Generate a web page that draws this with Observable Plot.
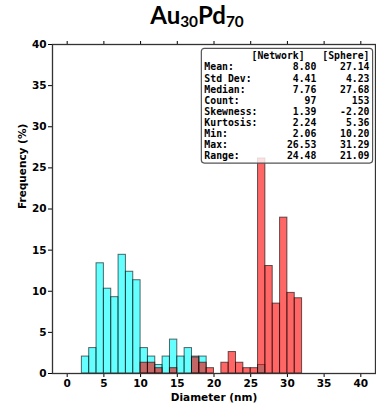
<!DOCTYPE html>
<html><head><meta charset="utf-8">
<script src="https://cdn.jsdelivr.net/npm/d3@7"></script>
<script src="https://cdn.jsdelivr.net/npm/@observablehq/plot@0.6"></script>
<style>
body{margin:0;background:#fff;}
#title{height:34px;text-align:center;padding-left:18px;font:bold 24px Lato,"Open Sans",sans-serif;line-height:30px;color:#000;overflow:visible;white-space:nowrap;}
#title .sub{font-size:0.64em;position:relative;top:0.2em;}
#chart svg{display:block;}
</style></head><body>
<div id="title">Au<span class="sub">30</span>Pd<span class="sub">70</span></div>
<div id="chart"></div>
<script>
// Network (cyan) histogram: bin starts (nm) and frequency (%)
const networkBinStart = [2, 3, 4, 5, 6, 7, 8, 9, 10, 11, 12, 13, 14, 15, 16, 17, 18, 26];
const networkPct = [2.06, 3.09, 13.40, 10.31, 9.28, 14.43, 12.37, 11.34, 3.09, 2.06, 1.03, 2.06, 4.12, 2.06, 3.09, 2.06, 2.06, 1.03];
// Sphere (red) histogram
const sphereBinStart = [10, 11, 12, 14, 17, 18, 19, 21, 22, 23, 24, 25, 26, 27, 28, 29, 30, 31];
const spherePct = [1.31, 1.31, 0.65, 0.65, 1.96, 1.31, 0.65, 1.31, 2.61, 1.31, 0.65, 0.65, 26.14, 13.07, 8.50, 18.95, 9.80, 9.15];
const binWidth = 1;
const xTicks = [0, 5, 10, 15, 20, 25, 30, 35, 40];
const yTicks = [0, 5, 10, 15, 20, 25, 30, 35, 40];
const statLabels = ["Mean:", "Std Dev:", "Median:", "Count:", "Skewness:", "Kurtosis:", "Min:", "Max:", "Range:"];
const networkStats = ["8.80", "4.41", "7.76", "97", "1.39", "2.24", "2.06", "26.53", "24.48"];
const sphereStats = ["27.14", "4.23", "27.68", "153", "-2.20", "5.36", "10.20", "31.29", "21.09"];
const seriesNames = ["[Network]", "[Sphere]"];

const network = networkBinStart.map((s, i) => ({x1: s, x2: s + binWidth, y: networkPct[i]}));
const sphere = sphereBinStart.map((s, i) => ({x1: s, x2: s + binWidth, y: spherePct[i]}));

const NB = "\u00A0";
const pad = (s, n, left) => { s = String(s); const p = NB.repeat(Math.max(0, n - s.length)); return left ? p + s : s + p; };
const legendLines = [NB.repeat(8) + seriesNames[0] + NB.repeat(3) + seriesNames[1]]
  .concat(statLabels.map((l, i) => pad(l, 10, false) + pad(networkStats[i], 9, true) + pad(sphereStats[i], 9, true)));
const legendText = legendLines.join("\n");

const plot = Plot.plot({
  width: 376, height: 376,
  marginLeft: 52, marginRight: 1, marginTop: 10, marginBottom: 37,
  x: {domain: [-2, 42], label: null},
  y: {domain: [0, 40], label: null},
  style: {fontFamily: "'DejaVu Sans', sans-serif", fontSize: "10.5px", fontWeight: "bold", color: "#000", background: "#fff", overflow: "visible"},
  marks: [
    Plot.rectY(network, {x1: "x1", x2: "x2", y: "y", fill: "#00ffff", fillOpacity: 0.6, stroke: "#000", strokeOpacity: 0.6, strokeWidth: 1}),
    Plot.rectY(sphere, {x1: "x1", x2: "x2", y: "y", fill: "#ff0000", fillOpacity: 0.6, stroke: "#000", strokeOpacity: 0.6, strokeWidth: 1}),
    Plot.axisX({ticks: xTicks, tickSize: 4, tickPadding: 2, label: null}),
    Plot.axisX({anchor: "top", ticks: xTicks, tickSize: 4, tickFormat: () => "", label: null}),
    Plot.axisY({ticks: yTicks, tickSize: 4, tickPadding: 2, label: null}),
    Plot.frame({stroke: "#333", strokeWidth: 1.3}),
    Plot.text(["Diameter (nm)"], {text: d => d, frameAnchor: "bottom", dy: 27, fontSize: 10.5, fontWeight: "bold"}),
    Plot.text(["Frequency (%)"], {text: d => d, frameAnchor: "left", dx: -30, rotate: -90, fontSize: 10.5, fontWeight: "bold"}),
    Plot.text([legendText], {text: d => d, frameAnchor: "top-right", textAnchor: "end", lineAnchor: "top", dx: -6, dy: 7,
      fontFamily: "'DejaVu Sans Mono', monospace", fontSize: 9.8, fontWeight: "bold", lineHeight: 1.13})
  ]
});
document.getElementById("chart").appendChild(plot);

// rounded, semi-transparent box behind the statistics text
const g = [...plot.querySelectorAll('g[aria-label="text"]')].find(el => el.textContent.includes("Network"));
if (g) {
  const bb = g.getBBox();
  const r = document.createElementNS("http://www.w3.org/2000/svg", "rect");
  const tf = g.getAttribute("transform");
  if (tf) r.setAttribute("transform", tf);
  r.setAttribute("x", bb.x - 3);
  r.setAttribute("y", bb.y - 2);
  r.setAttribute("width", bb.width + 6);
  r.setAttribute("height", bb.height + 4);
  r.setAttribute("rx", 3);
  r.setAttribute("fill", "#fff");
  r.setAttribute("fill-opacity", 0.8);
  r.setAttribute("stroke", "#555");
  r.setAttribute("stroke-width", 1.2);
  g.parentNode.insertBefore(r, g);
}
</script>
</body></html>
